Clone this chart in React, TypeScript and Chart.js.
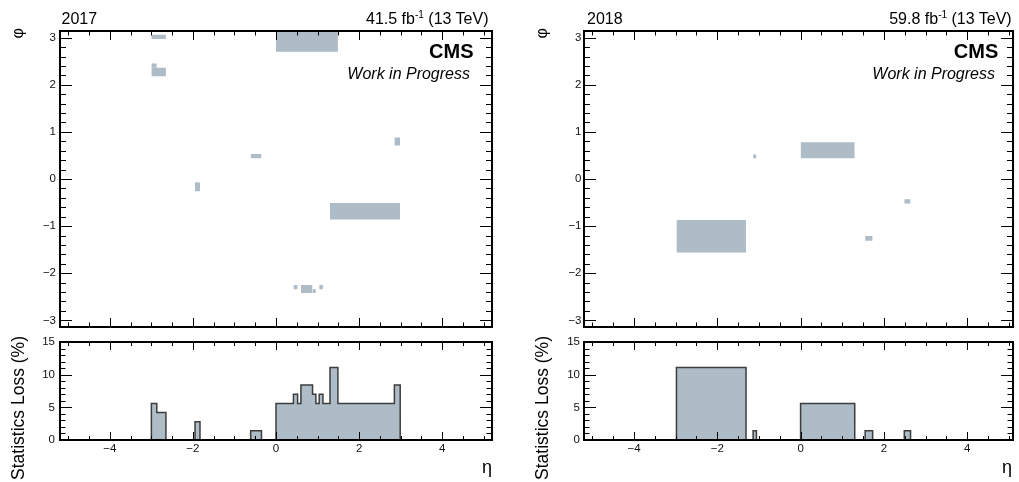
import React, { useEffect, useRef } from 'react';
import { Chart, registerables } from 'chart.js';

Chart.register(...registerables);

const W = 1019;
const H = 482;
const FONT = "'Liberation Sans', Arial, Helvetica, sans-serif";
const FILL = '#adbcc6';
const HIST_LINE = '#3d3d3d';

// ---- data: dead cells as [etaMin, etaMax, phiMin, phiMax] ----
const cells2017: number[][] = [
  [-3.0, -2.65, 2.97, 3.06],
  [0.0, 1.49, 2.7, 3.1416],
  [-3.0, -2.87, 2.36, 2.45],
  [-3.0, -2.65, 2.18, 2.36],
  [2.85, 2.99, 0.71, 0.88],
  [-0.61, -0.35, 0.44, 0.53],
  [-1.95, -1.83, -0.26, -0.07],
  [1.3, 2.99, -0.86, -0.51],
  [0.42, 0.52, -2.34, -2.25],
  [0.6, 0.88, -2.42, -2.25],
  [0.88, 0.96, -2.42, -2.34],
  [1.04, 1.13, -2.34, -2.25],
];
const cells2018: number[][] = [
  [-2.98, -1.31, -1.56, -0.87],
  [-1.14, -1.06, 0.44, 0.52],
  [0.0, 1.3, 0.44, 0.78],
  [2.49, 2.64, -0.52, -0.43],
  [1.55, 1.73, -1.31, -1.21],
];

// ---- data: statistics loss (%) histograms, bin edges in eta and bin values ----
const lossEdges2017 = [-3.0, -2.87, -2.65, -1.95, -1.83, -0.61, -0.35, 0.0, 0.42, 0.52, 0.6, 0.88, 0.96, 1.04, 1.13, 1.3, 1.49, 2.85, 2.99];
const loss2017 = [5.6, 4.2, 0, 2.8, 0, 1.4, 0, 5.6, 7.0, 5.6, 8.4, 7.0, 5.6, 7.0, 5.6, 11.1, 5.6, 8.4];
const lossEdges2018 = [-2.98, -1.31, -1.14, -1.06, 0.0, 1.3, 1.55, 1.73, 2.49, 2.64];
const loss2018 = [11.1, 0, 1.4, 0, 5.6, 0, 1.4, 0, 1.4];

// ---- tick labels ----
const phiLabels = [-3, -2, -1, 0, 1, 2, 3];
const etaLabels = [-4, -2, 0, 2, 4];
const lossLabels = [0, 5, 10, 15];
const etaMinor = [-5, -4.5, -3.5, -3, -2.5, -1.5, -1, -0.5, 0.5, 1, 1.5, 2.5, 3, 3.5, 4.5, 5];
const lossMinor = [1, 2, 3, 4, 6, 7, 8, 9, 11, 12, 13, 14];
const phiMinor = [
  -2.8, -2.6, -2.4, -2.2, -1.8, -1.6, -1.4, -1.2, -0.8, -0.6, -0.4, -0.2,
  0.2, 0.4, 0.6, 0.8, 1.2, 1.4, 1.6, 1.8, 2.2, 2.4, 2.6, 2.8, -3.0,
];

// ---- layout ----
const TOP_CANVAS_H = 330;
const TOP_PLOT_TOP = 31;
const TOP_PLOT_BOTTOM = 327;
const BOT_CANVAS_TOP = 330;
const BOT_CANVAS_H = 152;
const BOT_PLOT_TOP = 342;
const BOT_PLOT_BOTTOM = 440;

const fmt = (v: number) => (v < 0 ? '\u2212' + Math.abs(v) : String(v));
const TICK_FONT = { family: FONT, size: 11.5 };

function zeroPad(s: any) {
  s.paddingTop = 0;
  s.paddingBottom = 0;
  s.paddingLeft = 0;
  s.paddingRight = 0;
}

function makeFrame(spec: any) {
  return {
    id: 'rootFrame',
    afterDatasetsDraw(chart: any) {
      const { ctx, chartArea: a } = chart;
      const xs = chart.scales.x;
      const ys = chart.scales.y;
      ctx.save();
      ctx.strokeStyle = '#000';
      ctx.lineWidth = 1;
      ctx.beginPath();
      const vx = (vals: number[], len: number) => {
        for (const v of vals) {
          if (v < xs.min || v > xs.max) continue;
          const p = Math.round(xs.getPixelForValue(v)) + 0.5;
          ctx.moveTo(p, a.bottom);
          ctx.lineTo(p, a.bottom - len);
          ctx.moveTo(p, a.top);
          ctx.lineTo(p, a.top + len);
        }
      };
      const hy = (vals: number[], len: number) => {
        for (const v of vals) {
          if (v < ys.min || v > ys.max) continue;
          const p = Math.round(ys.getPixelForValue(v)) + 0.5;
          ctx.moveTo(a.left, p);
          ctx.lineTo(a.left + len, p);
          ctx.moveTo(a.right, p);
          ctx.lineTo(a.right - len, p);
        }
      };
      vx(spec.xMajor, spec.xMajLen);
      vx(spec.xMinor, spec.xMinLen);
      hy(spec.yMajor, spec.yMajLen);
      hy(spec.yMinor, spec.yMinLen);
      ctx.stroke();
      ctx.lineWidth = 2;
      ctx.strokeRect(a.left, a.top, a.right - a.left, a.bottom - a.top);
      ctx.restore();
    },
  };
}

type Panel = {
  cells: number[][];
  edges: number[];
  loss: number[];
  offsetX: number;
  canvasW: number;
  plotLeft: number;
  plotRight: number;
  etaMin: number;
  etaMax: number;
  phiPad: number;
  lossPad: number;
};

const panels: Panel[] = [
  { cells: cells2017, edges: lossEdges2017, loss: loss2017, offsetX: 0, canvasW: 510, plotLeft: 60, plotRight: 492, etaMin: -5.2, etaMax: 5.2, phiPad: 4, lossPad: 5 },
  { cells: cells2018, edges: lossEdges2018, loss: loss2018, offsetX: 510, canvasW: 509, plotLeft: 584, plotRight: 1013, etaMin: -5.2, etaMax: 5.1, phiPad: 2.5, lossPad: 4 },
];

function mapConfig(p: Panel): any {
  return {
    type: 'line',
    data: {
      datasets: p.cells.map((c) => ({
        data: [
          { x: c[0], y: c[3] },
          { x: c[1], y: c[3] },
        ],
        fill: { value: c[2] },
        backgroundColor: FILL,
        borderColor: 'rgba(0,0,0,0)',
        borderWidth: 0,
        pointRadius: 0,
        tension: 0,
      })),
    },
    options: {
      animation: false,
      responsive: false,
      events: [],
      layout: {
        padding: {
          left: 0,
          top: TOP_PLOT_TOP,
          right: p.canvasW - (p.plotRight - p.offsetX),
          bottom: TOP_CANVAS_H - TOP_PLOT_BOTTOM,
        },
      },
      plugins: { legend: { display: false }, tooltip: { enabled: false } },
      scales: {
        x: { type: 'linear', min: p.etaMin, max: p.etaMax, display: false },
        y: {
          type: 'linear',
          min: -Math.PI,
          max: Math.PI,
          grid: { display: false, drawTicks: false },
          border: { display: false },
          ticks: { autoSkip: false, padding: p.phiPad, color: '#111', font: TICK_FONT, callback: (v: any) => fmt(Number(v)) },
          afterBuildTicks: (s: any) => {
            s.ticks = phiLabels.map((v) => ({ value: v }));
          },
          afterFit: (s: any) => {
            s.width = p.plotLeft - p.offsetX;
            zeroPad(s);
          },
        },
      },
    },
    plugins: [
      makeFrame({ xMajor: etaLabels, xMinor: etaMinor, xMajLen: 9, xMinLen: 4.5, yMajor: phiLabels, yMinor: phiMinor, yMajLen: 12, yMinLen: 6 }),
    ],
  };
}

function histPoints(edges: number[], vals: number[]) {
  const pts = [{ x: edges[0], y: 0 }];
  vals.forEach((v, i) => pts.push({ x: edges[i], y: v }));
  pts.push({ x: edges[edges.length - 1], y: 0 });
  return pts;
}

function lossConfig(p: Panel): any {
  return {
    type: 'line',
    data: {
      datasets: [
        {
          data: histPoints(p.edges, p.loss),
          stepped: true,
          fill: 'origin',
          backgroundColor: FILL,
          borderColor: HIST_LINE,
          borderWidth: 1.5,
          pointRadius: 0,
          tension: 0,
        },
      ],
    },
    options: {
      animation: false,
      responsive: false,
      events: [],
      layout: {
        padding: {
          left: 0,
          top: BOT_PLOT_TOP - BOT_CANVAS_TOP,
          right: p.canvasW - (p.plotRight - p.offsetX),
          bottom: 0,
        },
      },
      plugins: { legend: { display: false }, tooltip: { enabled: false } },
      scales: {
        x: {
          type: 'linear',
          min: p.etaMin,
          max: p.etaMax,
          grid: { display: false, drawTicks: false },
          border: { display: false },
          ticks: { autoSkip: false, maxRotation: 0, padding: 1.5, color: '#111', font: TICK_FONT, callback: (v: any) => fmt(Number(v)) },
          afterBuildTicks: (s: any) => {
            s.ticks = etaLabels.map((v) => ({ value: v }));
          },
          afterFit: (s: any) => {
            s.height = BOT_CANVAS_TOP + BOT_CANVAS_H - BOT_PLOT_BOTTOM;
            zeroPad(s);
          },
        },
        y: {
          type: 'linear',
          min: 0,
          max: 15,
          grid: { display: false, drawTicks: false },
          border: { display: false },
          ticks: { autoSkip: false, padding: p.lossPad, color: '#111', font: TICK_FONT, callback: (v: any) => fmt(Number(v)) },
          afterBuildTicks: (s: any) => {
            s.ticks = lossLabels.map((v) => ({ value: v }));
          },
          afterFit: (s: any) => {
            s.width = p.plotLeft - p.offsetX;
            zeroPad(s);
          },
        },
      },
    },
    plugins: [
      makeFrame({ xMajor: etaLabels, xMinor: etaMinor, xMajLen: 8, xMinLen: 4, yMajor: lossLabels, yMinor: lossMinor, yMajLen: 12, yMinLen: 5.5 }),
    ],
  };
}

function ChartCanvas({ left, top, width, height, make }: { left: number; top: number; width: number; height: number; make: () => any }) {
  const ref = useRef<HTMLCanvasElement>(null);
  useEffect(() => {
    const chart = new Chart(ref.current as HTMLCanvasElement, make());
    return () => chart.destroy();
  }, []);
  return (
    <canvas
      ref={ref}
      width={width}
      height={height}
      style={{ position: 'absolute', left, top, width, height, display: 'block' }}
    />
  );
}

function Txt({ x, y, size, anchor = 'left', weight = 400, italic = false, children }: any) {
  const style: any = {
    position: 'absolute',
    top: y - 0.8465 * size,
    fontSize: size,
    lineHeight: `${size}px`,
    whiteSpace: 'nowrap',
    fontWeight: weight,
    fontStyle: italic ? 'italic' : 'normal',
    color: '#000',
  };
  if (anchor === 'left') style.left = x;
  else style.right = W - x;
  return <div style={style}>{children}</div>;
}

function VTxt({ x, yEnd, size, children }: any) {
  const L = 300;
  return (
    <div
      style={{
        position: 'absolute',
        left: x,
        top: yEnd + L,
        width: L,
        height: size,
        lineHeight: `${size}px`,
        fontSize: size,
        textAlign: 'right',
        whiteSpace: 'nowrap',
        transform: 'rotate(-90deg)',
        transformOrigin: 'left top',
        color: '#000',
      }}
    >
      {children}
    </div>
  );
}

function Lumi({ value }: { value: string }) {
  return (
    <>
      {value} fb
      <span style={{ fontSize: 10, position: 'relative', top: -6, lineHeight: 0 }}>-1</span>
      {' '}(13 TeV)
    </>
  );
}

export default function App() {
  return (
    <div
      style={{
        position: 'absolute',
        left: 0,
        top: 0,
        width: W,
        height: H,
        overflow: 'hidden',
        background: '#fff',
        fontFamily: FONT,
      }}
    >
      {panels.map((p, i) => (
        <React.Fragment key={i}>
          <ChartCanvas left={p.offsetX} top={0} width={p.canvasW} height={TOP_CANVAS_H} make={() => mapConfig(p)} />
          <ChartCanvas left={p.offsetX} top={BOT_CANVAS_TOP} width={p.canvasW} height={BOT_CANVAS_H} make={() => lossConfig(p)} />
        </React.Fragment>
      ))}

      {/* 2017 panel texts */}
      <Txt x={61.5} y={25} size={16}>2017</Txt>
      <Txt x={488.5} y={25} size={16} anchor="right"><Lumi value="41.5" /></Txt>
      <Txt x={473.5} y={58} size={20} weight={700} anchor="right">CMS</Txt>
      <Txt x={470} y={80} size={16} italic anchor="right">Work in Progress</Txt>
      <VTxt x={10.3} yEnd={28} size={16}>φ</VTxt>
      <Txt x={492} y={473} size={18} anchor="right">η</Txt>
      <VTxt x={10.2} yEnd={336} size={17.5}>Statistics Loss (%)</VTxt>

      {/* 2018 panel texts */}
      <Txt x={587} y={25} size={16}>2018</Txt>
      <Txt x={1011.7} y={25} size={16} anchor="right"><Lumi value="59.8" /></Txt>
      <Txt x={998.3} y={58} size={20} weight={700} anchor="right">CMS</Txt>
      <Txt x={995} y={80} size={16} italic anchor="right">Work in Progress</Txt>
      <VTxt x={534.3} yEnd={28} size={16}>φ</VTxt>
      <Txt x={1012} y={473} size={18} anchor="right">η</Txt>
      <VTxt x={534.2} yEnd={336} size={17.5}>Statistics Loss (%)</VTxt>
    </div>
  );
}
